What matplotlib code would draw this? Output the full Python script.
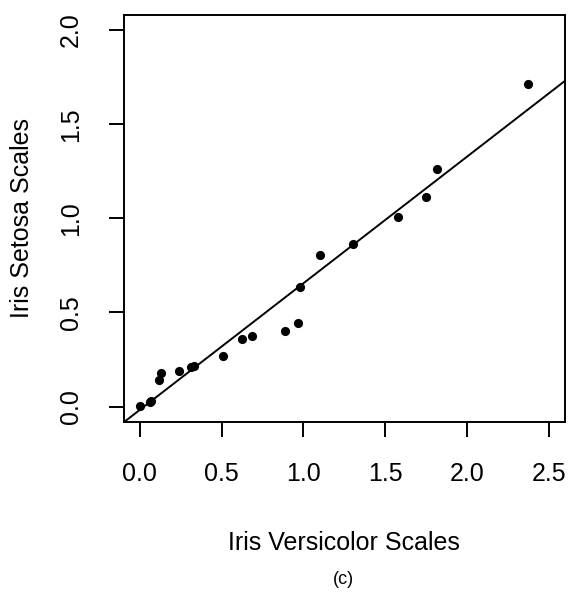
import matplotlib.pyplot as plt

plt.rcParams.update({
    'font.family': ['Liberation Sans', 'DejaVu Sans'],
    'font.size': 18,
    'axes.linewidth': 1.4,
})

# paired quantile scales: versicolor (x) against setosa (y)
versicolor = [0.000, 0.060, 0.068, 0.116, 0.131, 0.239, 0.315, 0.331, 0.509,
              0.626, 0.683, 0.885, 0.965, 0.978, 1.104, 1.304, 1.580, 1.748,
              1.820, 2.374]
setosa = [0.003, 0.022, 0.030, 0.139, 0.177, 0.189, 0.208, 0.217, 0.268,
          0.360, 0.374, 0.403, 0.445, 0.636, 0.803, 0.862, 1.008, 1.114,
          1.264, 1.713]

# fitted line y = a + b*x
fit_intercept = -0.017
fit_slope = 0.672

x_ticks = [0.0, 0.5, 1.0, 1.5, 2.0, 2.5]
y_ticks = [0.0, 0.5, 1.0, 1.5, 2.0]

fig = plt.figure(figsize=(5.7, 5.95), dpi=100)
ax = fig.add_axes([0.2167, 0.2913, 0.9912 - 0.2167, 0.9748 - 0.2913])

ax.plot(versicolor, setosa, 'ko', markersize=6.6, markeredgewidth=0)
ax.axline((0, fit_intercept), slope=fit_slope, color='k', linewidth=1.4)

ax.set_xlim(-0.1, 2.6)
ax.set_ylim(-0.08, 2.08)
ax.set_xticks(x_ticks)
ax.set_yticks(y_ticks)
ax.set_xticklabels(['%.1f' % v for v in x_ticks])
ax.set_yticklabels(['%.1f' % v for v in y_ticks], rotation=90, va='center')
ax.tick_params(direction='out', length=11, width=1.4, pad=18, labelsize=18)

fig.text(0.5 * (0.2167 + 0.9912), 1 - 543 / 595, 'Iris Versicolor Scales',
         ha='center', va='center', fontsize=18)
fig.text(22.5 / 570, 0.5 * (0.2913 + 0.9748), 'Iris Setosa Scales',
         ha='center', va='center', rotation=90, fontsize=18)
fig.text(343 / 570, 1 - 579.5 / 595, '(c)',
         ha='center', va='center', fontsize=13)

fig.savefig('out.png', dpi=100)
